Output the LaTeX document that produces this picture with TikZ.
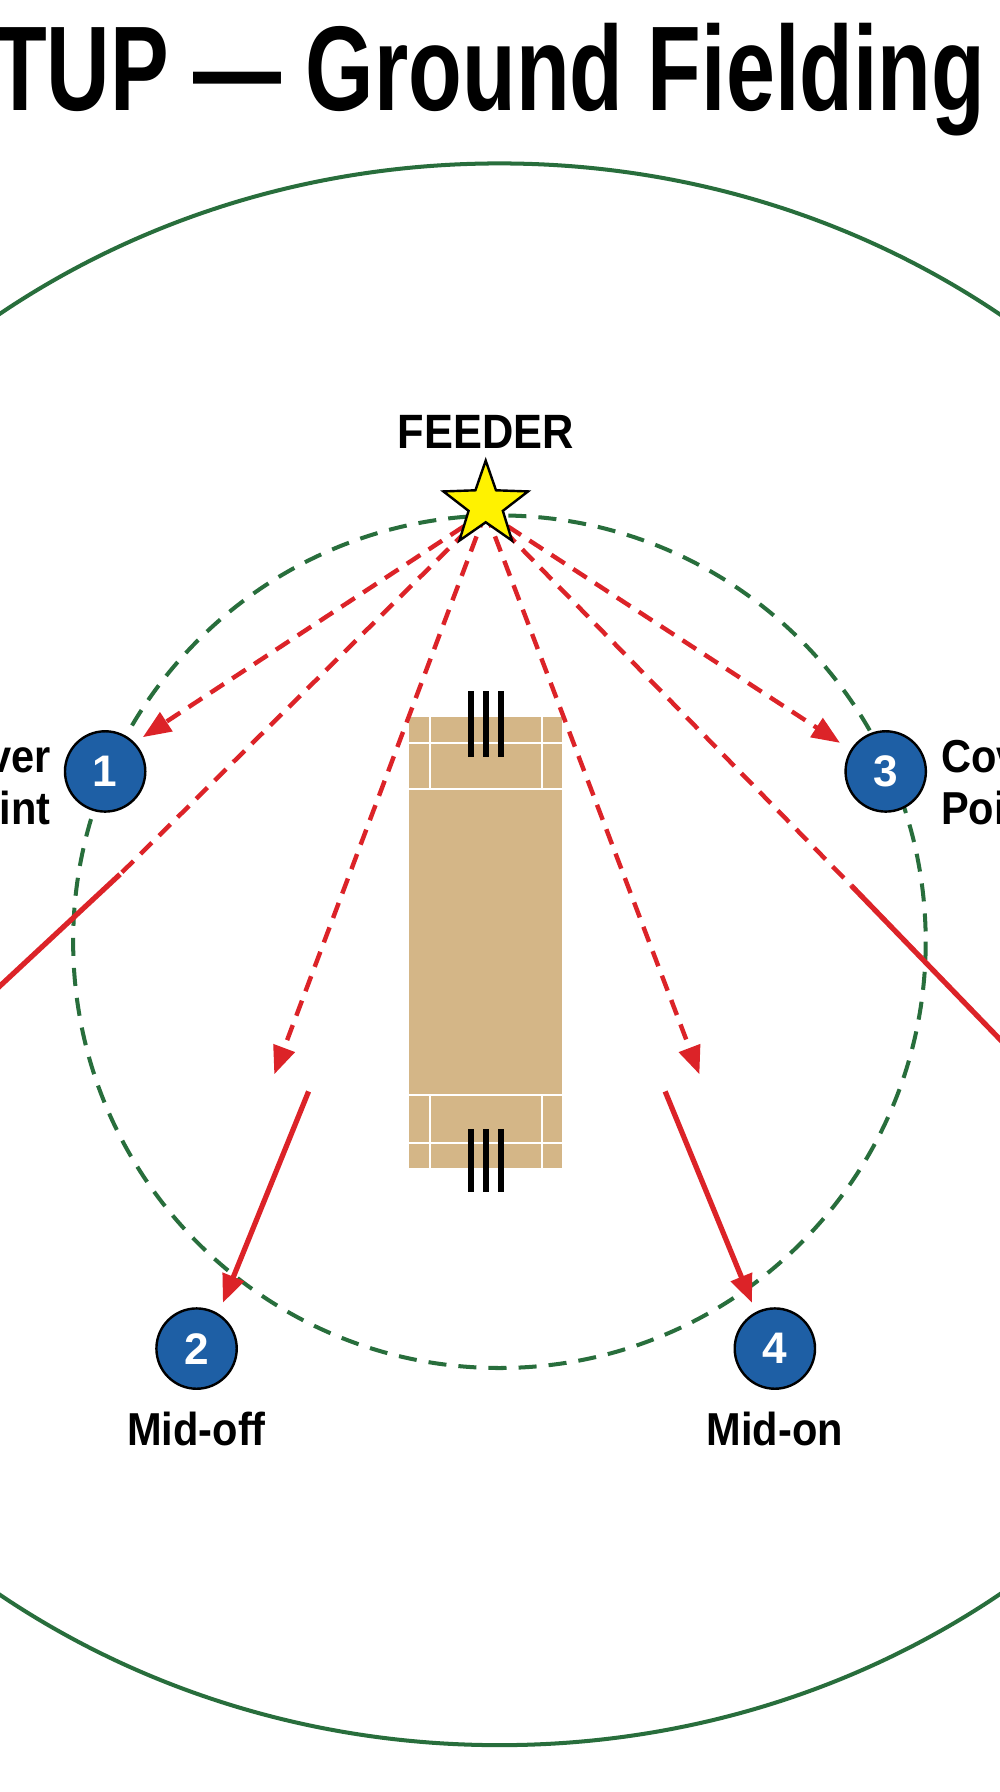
\documentclass[tikz,border=0pt]{standalone}
\usepackage{fontspec}
\setmainfont{Liberation Sans}
\usetikzlibrary{arrows.meta}
\definecolor{fgreen}{RGB}{40,110,60}
\definecolor{fred}{RGB}{220,35,40}
\definecolor{fblue}{RGB}{30,95,165}
\definecolor{tan}{RGB}{212,182,135}
\begin{document}
\begin{tikzpicture}[x=0.02cm,y=-0.02cm,
  dsh/.style={fred,line width=2.2pt,dash pattern=on 8pt off 5pt},
  sol/.style={fred,line width=2.6pt},
  tip/.style={-{Triangle[length=14pt,width=11pt]}},
  fld/.style={circle,draw=black,line width=1.2pt,fill=fblue,minimum size=40pt,text=white,font=\bfseries\fontsize{22}{24}\selectfont},
  lab/.style={font=\bfseries\fontsize{23}{26}\selectfont,xscale=0.9}]
\useasboundingbox (0,0) rectangle (875,1568);
\begin{scope}
\clip (0,0) rectangle (875,1568);
\fill[white] (0,0) rectangle (875,1568);
\node[font=\bfseries\fontsize{60}{64}\selectfont,xscale=0.73] (title) at (428,70) {TUP — Ground Fielding};
\draw[fgreen,line width=2pt] (437,835) ellipse [x radius=745,y radius=692];
\draw[fgreen,line width=2pt,dash pattern=on 9pt off 6pt] (437,824) circle [radius=373];
\fill[tan] (358,627) rectangle (492,1022);
\draw[white,line width=1pt] (358,690)--(492,690) (376,627)--(376,690) (474,627)--(474,690) (358,650)--(492,650)
 (358,958)--(492,958) (376,958)--(376,1022) (474,958)--(474,1022) (358,1000)--(492,1000);
\foreach \x in {412,425,438}{\draw[black,line width=3pt] (\x,605)--(\x,662); \draw[black,line width=3pt] (\x,988)--(\x,1043);}
\coordinate (fs) at (425,448);
\node[lab,align=right,anchor=east] (l1) at (50,685) {Cover\\Point};
\node[lab,align=left,anchor=west] (l3) at (818,685) {Cover\\Point};
\coordinate (a1) at (125,645);
\coordinate (a3) at (735,650);
\coordinate (a2) at (240,940);
\coordinate (a4) at (612,940);
\coordinate (m1) at (105,765);
\coordinate (e1) at (-10,872);
\coordinate (m3) at (745,775);
\coordinate (e3) at (890,925);
\draw[dsh,tip] (fs) -- (a1);
\draw[dsh,tip] (fs) -- (a3);
\draw[dsh,tip] (fs) -- (a2);
\draw[dsh,tip] (fs) -- (a4);
\draw[dsh] (fs) -- (m1);
\draw[sol] (m1) -- (e1);
\draw[dsh] (fs) -- (m3);
\draw[sol] (m3) -- (e3);
\coordinate (s2) at (270,955); \coordinate (t2) at (195,1140);
\coordinate (s4) at (582,955); \coordinate (t4) at (658,1140);
\draw[sol,tip] (s2) -- (t2);
\draw[sol,tip] (s4) -- (t4);
\end{scope}
\node[fld] (f1) at (92,675) {1};
\node[fld] (f3) at (775,675) {3};
\node[fld] (f2) at (172,1180) {2};
\node[fld] (f4) at (678,1180) {4};
\fill[yellow,draw=black,line width=1.2pt]
 (425,403) -- (434,429) -- (462,430) -- (440,447) -- (448,473) -- (425,457) -- (402,473) -- (410,447) -- (388,430) -- (416,429) -- cycle;
\node[font=\bfseries\fontsize{24}{26}\selectfont,xscale=0.9] (feeder) at (425,378) {FEEDER};
\node[lab] (l2) at (172,1250) {Mid-off};
\node[lab] (l4) at (678,1250) {Mid-on};
\end{tikzpicture}
\end{document}
